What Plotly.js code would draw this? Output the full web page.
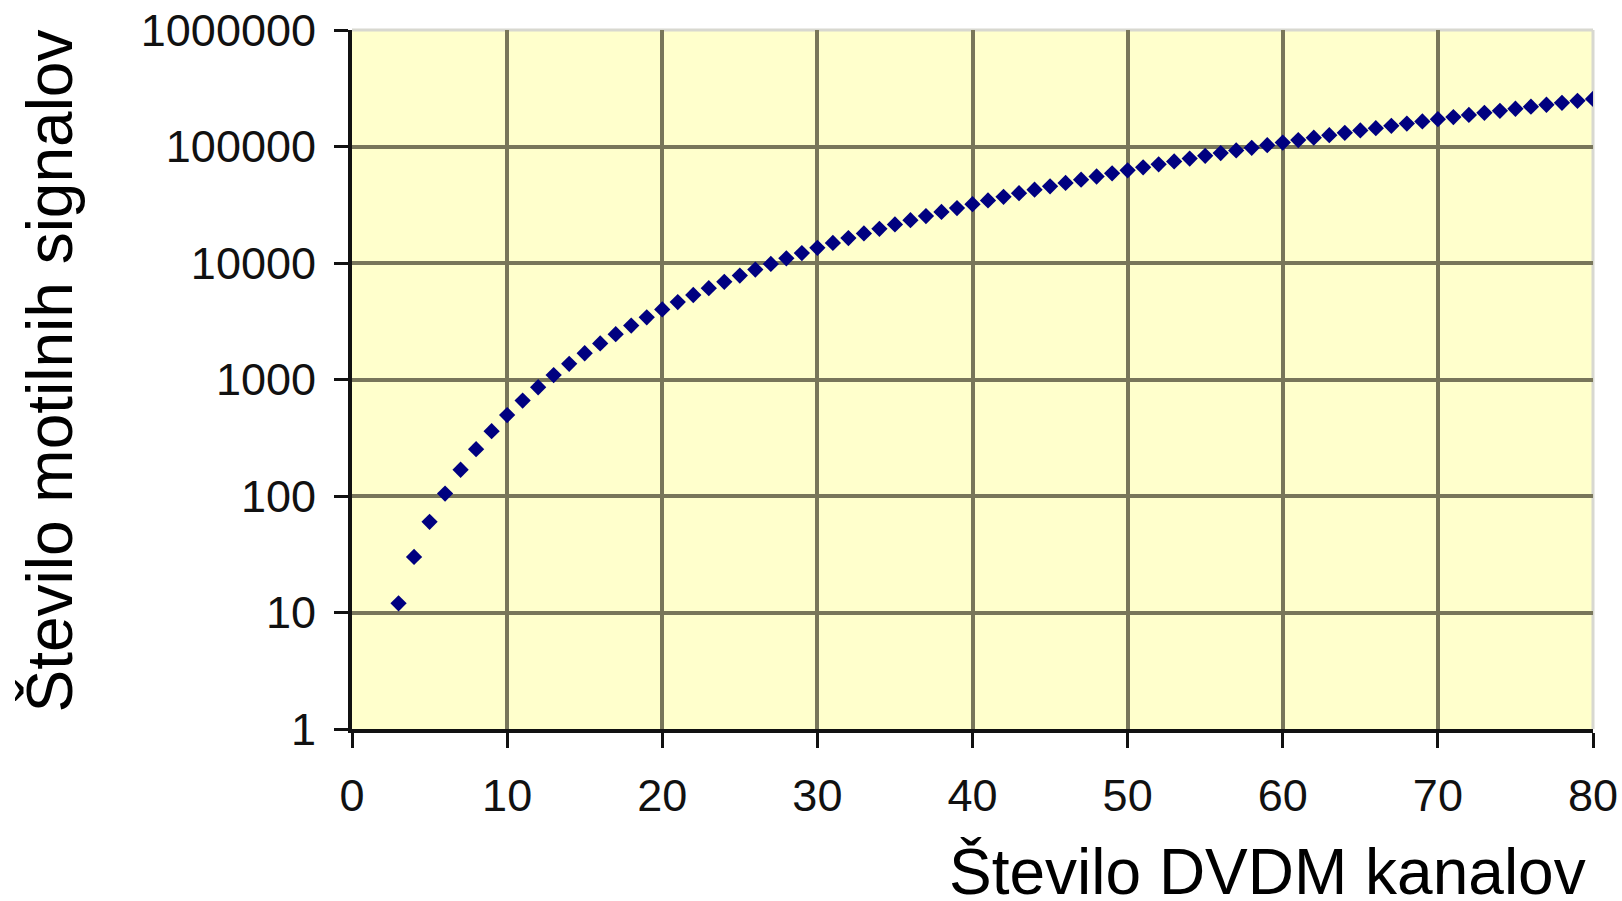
<!DOCTYPE html>
<html>
<head>
<meta charset="utf-8">
<script src="https://cdn.plot.ly/plotly-3.0.1.min.js"></script>
<style>html,body{margin:0;padding:0;background:#fff;}#chart{width:1622px;height:901px;}</style>
</head>
<body>
<div id="chart"></div>
<script>
// Number of DVDM channels (x) and number of motile signals (y)
const channels = [3,4,5,6,7,8,9,10,11,12,13,14,15,16,17,18,19,20,21,22,23,24,25,26,27,28,29,30,
  31,32,33,34,35,36,37,38,39,40,41,42,43,44,45,46,47,48,49,50,51,52,53,54,55,56,57,58,59,60,
  61,62,63,64,65,66,67,68,69,70,71,72,73,74,75,76,77,78,79,80];
const signals = [12,30,60,105,168,252,360,495,660,858,1092,1365,1680,2040,2448,2907,3420,3990,
  4620,5313,6072,6900,7800,8775,9828,10962,12180,13485,14880,16368,17952,19635,21420,23310,
  25308,27417,29640,31980,34440,37023,39732,42570,45540,48645,51888,55272,58800,62475,66300,
  70278,74412,78705,83160,87780,92568,97527,102660,107970,113460,119133,124992,131040,137280,
  143715,150348,157182,164220,171465,178920,186588,194472,202575,210900,219450,228228,237237,
  246480,255960];
const xTickVals = [0,10,20,30,40,50,60,70,80];
const yTickVals = [1,10,100,1000,10000,100000,1000000];
const yTickText = ["1","10","100","1000","10000","100000","1000000"];
const xTitle = "Število DVDM kanalov";
const yTitle = "Število motilnih signalov";

const font = "Liberation Sans, Arial, sans-serif";
const trace = {
  x: channels, y: signals, type: "scatter", mode: "markers",
  marker: {symbol: "diamond", size: 12.5, color: "#000080"},
  hoverinfo: "x+y"
};
const layout = {
  width: 1622, height: 901,
  margin: {l: 352, r: 29, t: 30, b: 172, pad: 0},
  paper_bgcolor: "#ffffff", plot_bgcolor: "#ffffcc",
  showlegend: false,
  font: {family: font, color: "#111111", size: 44},
  xaxis: {
    range: [0, 80], tickvals: xTickVals, ticks: "outside", ticklen: 15, tickwidth: 3,
    tickcolor: "#111111", showline: true, linecolor: "#111111", linewidth: 4,
    showgrid: true, gridcolor: "#78765a", gridwidth: 4, zeroline: false,
    tickfont: {family: font, size: 45, color: "#111111"}, ticklabelstandoff: 9
  },
  yaxis: {
    type: "log", range: [0, 6], tickvals: yTickVals, ticktext: yTickText, ticks: "outside",
    ticklen: 14, tickwidth: 3, tickcolor: "#111111", showline: true, linecolor: "#111111",
    linewidth: 4, showgrid: true, gridcolor: "#78765a", gridwidth: 4, zeroline: false,
    tickfont: {family: font, size: 45, color: "#111111"}, ticklabelstandoff: 9
  },
  shapes: [
    {type: "line", xref: "paper", yref: "paper", x0: 0, x1: 1, y0: 1, y1: 1, line: {color: "#d8d8d0", width: 3}, layer: "below"},
    {type: "line", xref: "paper", yref: "paper", x0: 1, x1: 1, y0: 0, y1: 1, line: {color: "#d8d8d0", width: 3}, layer: "below"}
  ],
  annotations: [
    {text: xTitle, xref: "paper", yref: "paper", x: 0.996, y: -0.204, xanchor: "right", yanchor: "middle",
     showarrow: false, font: {family: font, size: 64, color: "#000000"}},
    {text: yTitle, xref: "paper", yref: "paper", x: -0.243, y: 0.512, xanchor: "center", yanchor: "middle",
     textangle: -90, showarrow: false, font: {family: font, size: 64, color: "#000000"}}
  ]
};
Plotly.newPlot("chart", [trace], layout, {displayModeBar: false, staticPlot: true});
</script>
</body>
</html>
